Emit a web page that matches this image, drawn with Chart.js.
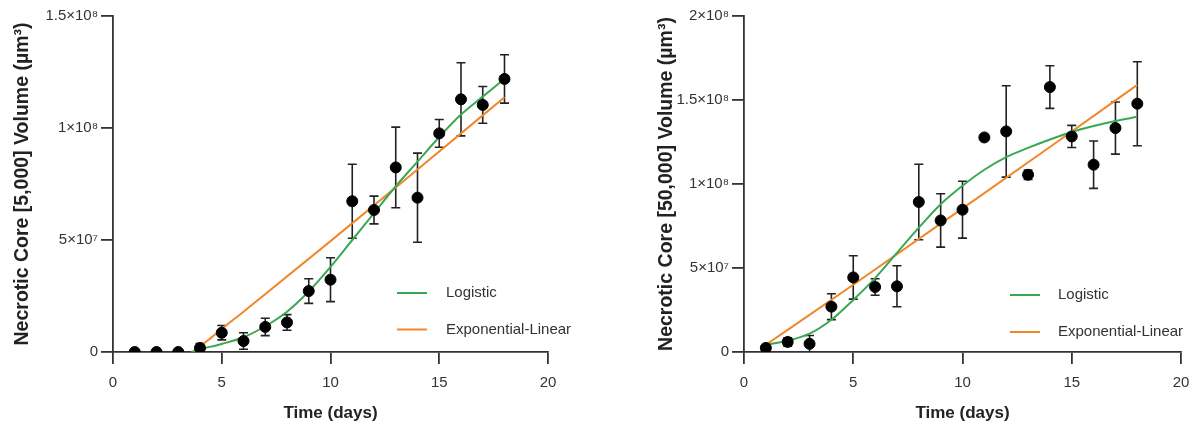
<!DOCTYPE html>
<html>
<head>
<meta charset="utf-8">
<script src="https://cdn.jsdelivr.net/npm/chart.js@4.4.1/dist/chart.umd.min.js"></script>
<style>
  html, body { margin: 0; padding: 0; background: #fff; }
  #wrap { position: relative; width: 1193px; height: 425px; overflow: hidden; }
  .box { position: absolute; top: 0; height: 425px; }
</style>
</head>
<body>
<div id="wrap">
  <div class="box" style="left:0; width:600px;"><canvas id="left"></canvas></div>
  <div class="box" style="left:630px; width:575px;"><canvas id="right"></canvas></div>
</div>
<script>
// Jours de mesure (communs aux deux graphiques)
const days = [1, 2, 3, 4, 5, 6, 7, 8, 9, 10, 11, 12, 13, 14, 15, 16, 17, 18];

// [5,000] : moyennes et écarts (en millions de µm³)
const leftMean = [0, 0, 0, 1.8, 8.6, 4.9, 11.2, 13.2, 27.2, 32.3, 67.3, 63.4, 82.4, 68.9, 97.6, 112.8, 110.3, 121.9];
const leftErr = [0, 0, 0, 2.0, 3.2, 3.7, 3.9, 3.5, 5.5, 9.8, 16.5, 6.2, 18.0, 19.9, 6.2, 16.3, 8.2, 10.8];

// [5,000] : courbes ajustées
const leftLogX = [3.6, 4, 5, 6, 7, 8, 9, 10, 11, 12, 13, 14, 15, 16, 17, 18];
const leftLogY = [0, 1.2, 3.6, 6.6, 11.5, 18, 27, 38, 50, 62, 74, 85, 96, 106, 114, 122];
const leftExpX = [3.65, 4, 4.5, 5, 6, 10, 14, 18];
const leftExpY = [0, 2.4, 6.3, 10.3, 18, 49.5, 81.5, 113.7];

// [50,000] : moyennes et écarts (en millions de µm³)
const rightMean = [2.4, 6.0, 4.9, 27.0, 44.4, 38.7, 39.1, 89.3, 78.3, 84.7, 127.7, 131.3, 105.5, 157.7, 128.3, 111.5, 133.3, 147.8];
const rightErr = [1.0, 2.5, 4.9, 7.7, 12.9, 4.9, 12.2, 22.5, 15.9, 16.9, 0, 27.2, 2.8, 12.7, 6.6, 14.1, 15.5, 25.0];

// [50,000] : courbes ajustées
const rightLogX = [1, 2, 3, 4, 5, 6, 7, 8, 9, 10, 11, 12, 13, 14, 15, 16, 17, 18];
const rightLogY = [4.3, 6.7, 10.9, 19.2, 31, 44, 59, 74, 88, 99, 108.5, 116, 121.5, 126.5, 131, 134.5, 137.5, 140];
const rightExpX = [1, 5, 10, 14, 18];
const rightExpY = [4.3, 40, 85.5, 122, 159];

// Graduations
const xTicks = [0, 5, 10, 15, 20];
const leftYTicks = ['0', '5×10⁷', '1×10⁸', '1.5×10⁸'];
const rightYTicks = ['0', '5×10⁷', '1×10⁸', '1.5×10⁸', '2×10⁸'];
const legendLabels = ['Logistic', 'Exponential-Linear'];

const GREEN = '#3aa853';
const ORANGE = '#f0882a';
const AXIS = '#333333';
const FONT = "'Liberation Sans', Arial, sans-serif";
const M = 1e6;

function pts(xs, ys) {
    return xs.map((x, i) => ({ x: x, y: ys[i] * M }));
}

// Barres d'erreur dessinées avec les échelles du graphique
const errorBars = {
    id: 'errorBars',
    beforeDatasetsDraw(chart) {
        const ds = chart.data.datasets[0];
        const xs = chart.scales.x, ys = chart.scales.y;
        const ctx = chart.ctx;
        ctx.save();
        ctx.strokeStyle = '#222';
        ctx.lineWidth = 1.6;
        ds.data.forEach((p, i) => {
            const e = ds.errors[i] * M;
            if (!e) return;
            const px = xs.getPixelForValue(p.x);
            const top = ys.getPixelForValue(p.y + e);
            const bot = ys.getPixelForValue(Math.max(p.y - e, 0));
            ctx.beginPath();
            ctx.moveTo(px, top); ctx.lineTo(px, bot);
            ctx.moveTo(px - 4.5, top); ctx.lineTo(px + 4.5, top);
            if (p.y - e > 0) { ctx.moveTo(px - 4.5, bot); ctx.lineTo(px + 4.5, bot); }
            ctx.stroke();
        });
        ctx.restore();
    }
};

// Légende dessinée dans la zone du graphique
const insideLegend = {
    id: 'insideLegend',
    afterDraw(chart, args, opts) {
        const ctx = chart.ctx;
        ctx.save();
        ctx.font = '15px ' + FONT;
        ctx.textBaseline = 'middle';
        ctx.fillStyle = '#333';
        [GREEN, ORANGE].forEach((c, i) => {
            const y = opts.y[i];
            ctx.strokeStyle = c;
            ctx.lineWidth = 2;
            ctx.beginPath();
            ctx.moveTo(opts.x, y); ctx.lineTo(opts.x + 30, y);
            ctx.stroke();
            ctx.fillText(legendLabels[i], opts.textX, y);
        });
        ctx.restore();
    }
};

function makeChart(id, c) {
    const ctx = document.getElementById(id).getContext('2d');
    return new Chart(ctx, {
        type: 'scatter',
        data: {
            datasets: [{
                data: pts(days, c.mean),
                errors: c.err,
                backgroundColor: '#000',
                borderColor: '#000',
                pointRadius: 5.5,
                pointHoverRadius: 5.5,
                order: 0
            }, {
                data: pts(c.logX, c.logY),
                showLine: true,
                borderColor: GREEN,
                borderWidth: 2,
                pointRadius: 0,
                cubicInterpolationMode: 'monotone',
                order: 1
            }, {
                data: pts(c.expX, c.expY),
                showLine: true,
                borderColor: ORANGE,
                borderWidth: 2,
                pointRadius: 0,
                cubicInterpolationMode: 'monotone',
                order: 2
            }]
        },
        options: {
            responsive: false,
            animation: false,
            events: [],
            layout: { padding: { top: 16, right: c.padRight, left: 0, bottom: 0 } },
            plugins: {
                legend: { display: false },
                tooltip: { enabled: false },
                insideLegend: c.legend
            },
            scales: {
                x: {
                    type: 'linear',
                    min: 0, max: 20,
                    afterBuildTicks: (s) => { s.ticks = xTicks.map(v => ({ value: v })); },
                    afterFit: (s) => { s.height = 73; },
                    border: { color: AXIS, width: 1.8 },
                    grid: { drawOnChartArea: false, color: AXIS, lineWidth: 1.8, tickLength: 12 },
                    ticks: { color: '#333', padding: 10, font: { family: FONT, size: 15 } },
                    title: {
                        display: true, text: 'Time (days)', color: '#222',
                        font: { family: FONT, size: 17, weight: 'bold' },
                        padding: { top: 0, bottom: 1 }
                    }
                },
                y: {
                    type: 'linear',
                    min: 0, max: c.yMax,
                    afterBuildTicks: (s) => { s.ticks = c.yTicks.map((t, i) => ({ value: i * 5e7 })); },
                    afterFit: (s) => { s.width = c.yWidth; },
                    border: { color: AXIS, width: 1.8 },
                    grid: { drawOnChartArea: false, color: AXIS, lineWidth: 1.8, tickLength: 12 },
                    ticks: {
                        color: '#333', padding: 3, font: { family: FONT, size: 15 },
                        callback: (v) => c.yTicks[Math.round(v / 5e7)]
                    },
                    title: {
                        display: true, text: c.yTitle, color: '#222',
                        font: { family: FONT, size: 19.5, weight: 'bold' },
                        padding: { top: c.titlePad, bottom: 0 }
                    }
                }
            }
        },
        plugins: [errorBars, insideLegend]
    });
}

const lc = document.getElementById('left');
lc.width = 600; lc.height = 425;
const rc = document.getElementById('right');
rc.width = 575; rc.height = 425;

makeChart('left', {
    mean: leftMean, err: leftErr,
    logX: leftLogX, logY: leftLogY, expX: leftExpX, expY: leftExpY,
    yMax: 1.5e8, yTicks: leftYTicks,
    yTitle: 'Necrotic Core [5,000] Volume (µm³)',
    yWidth: 113, padRight: 52, titlePad: 11,
    legend: { x: 397, textX: 446, y: [293, 329.5] }
});

makeChart('right', {
    mean: rightMean, err: rightErr,
    logX: rightLogX, logY: rightLogY, expX: rightExpX, expY: rightExpY,
    yMax: 2e8, yTicks: rightYTicks,
    yTitle: 'Necrotic Core [50,000] Volume (µm³)',
    yWidth: 114, padRight: 24, titlePad: 25,
    legend: { x: 380, textX: 428, y: [295, 332] }
});
</script>
</body>
</html>
